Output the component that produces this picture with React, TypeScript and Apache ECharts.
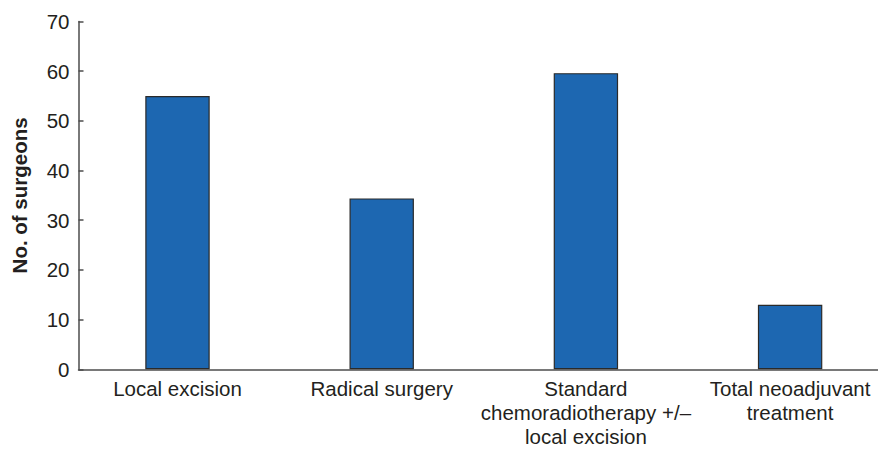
import React, { useEffect, useRef } from "react";
import * as echarts from "echarts";

const categories = [
  "Local excision",
  "Radical surgery",
  "Standard\nchemoradiotherapy +/–\nlocal excision",
  "Total neoadjuvant\ntreatment",
];
const surgeons = [55, 34.4, 59.6, 13];
const yTicks = { min: 0, max: 70, interval: 10 };
const yTitle = "No. of surgeons";

const FONT = "'Liberation Sans', Arial, Helvetica, sans-serif";
const TEXT = "#231f20";

export default function App() {
  const ref = useRef<HTMLDivElement>(null);
  useEffect(() => {
    document.body.style.margin = "0";
    const chart = echarts.init(ref.current!, null, { renderer: "svg" });
    chart.setOption({
      animation: false,
      backgroundColor: "#ffffff",
      textStyle: { fontFamily: FONT },
      grid: [
        { left: 78.5, right: 0, top: 21.5, bottom: 79.7, containLabel: false, outerBoundsMode: "none" },
        { left: 75.4, width: 816.8, top: 21.5, bottom: 79.7, containLabel: false, outerBoundsMode: "none" },
      ],
      xAxis: [
        {
          gridIndex: 0,
          type: "category",
          data: categories,
          axisLine: { show: true, lineStyle: { color: "#4d4d4d", width: 1.5 } },
          axisTick: { show: false },
          axisLabel: { show: false },
          splitLine: { show: false },
        },
        {
          gridIndex: 1,
          type: "category",
          data: categories,
          axisLine: { show: false },
          axisTick: { show: false },
          axisLabel: {
            show: true,
            interval: 0,
            margin: 7,
            fontSize: 20.5,
            lineHeight: 24,
            color: TEXT,
            fontFamily: FONT,
          },
          splitLine: { show: false },
        },
      ],
      yAxis: [
        {
          gridIndex: 0,
          type: "value",
          min: yTicks.min,
          max: yTicks.max,
          interval: yTicks.interval,
          name: yTitle,
          nameLocation: "middle",
          nameRotate: 90,
          nameGap: 49,
          nameTextStyle: { fontSize: 20.5, fontWeight: "bold", color: TEXT, fontFamily: FONT },
          axisLine: { show: true, lineStyle: { color: "#4d4d4d", width: 1.5 } },
          axisTick: { show: true, inside: true, length: 5, lineStyle: { color: "#4d4d4d", width: 1.5 } },
          axisLabel: { margin: 9, fontSize: 20.5, color: TEXT, fontFamily: FONT },
          splitLine: { show: false },
        },
        {
          gridIndex: 1,
          type: "value",
          min: yTicks.min,
          max: yTicks.max,
          interval: yTicks.interval,
          show: false,
          splitLine: { show: false },
        },
      ],
      series: [
        {
          type: "bar",
          xAxisIndex: 1,
          yAxisIndex: 1,
          data: surgeons,
          barWidth: 64.4,
          itemStyle: { color: "#1d67b1", borderColor: "#2a2a2a", borderWidth: 1.2 },
        },
      ],
    });
    return () => chart.dispose();
  }, []);
  return (
    <div
      ref={ref}
      style={{ position: "absolute", left: 0, top: 0, width: 878, height: 449 }}
    />
  );
}
